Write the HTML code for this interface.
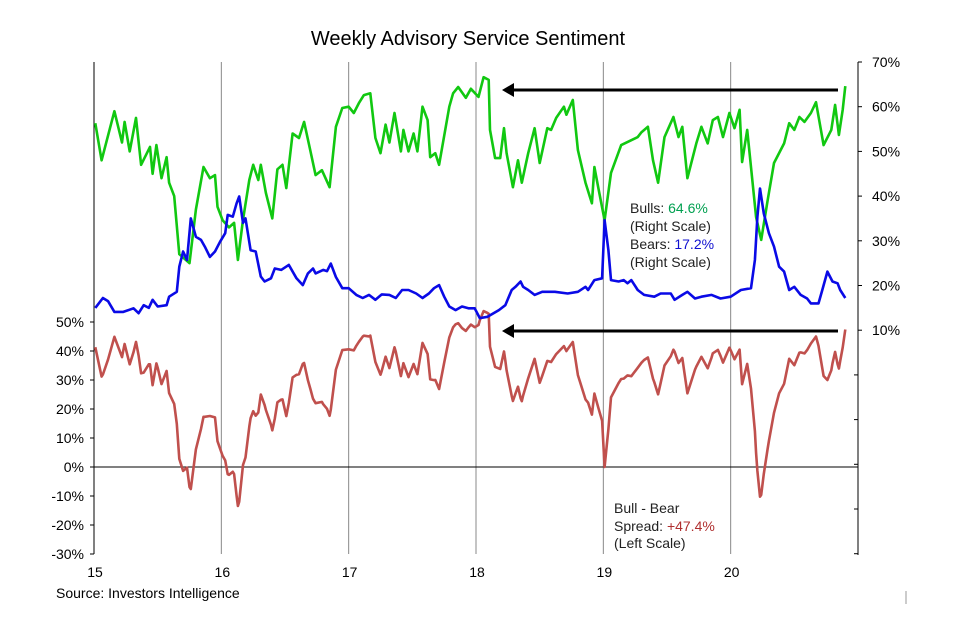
<!DOCTYPE html>
<html><head><meta charset="utf-8"><style>
html,body{margin:0;padding:0;background:#fff;}
svg{display:block;font-family:"Liberation Sans",Arial,sans-serif;}
</style></head><body>
<svg id="chart" width="958" height="619" viewBox="0 0 958 619" xmlns="http://www.w3.org/2000/svg">
<text x="468" y="45" font-size="20" text-anchor="middle" fill="#000">Weekly Advisory Service Sentiment</text>
<g id="grid"></g>
<g id="axes"></g>
<g id="series"></g>
<g>
<line x1="838" y1="90" x2="512" y2="90" stroke="#000" stroke-width="3"/>
<polygon points="502,90 514,83 514,97" fill="#000"/>
<line x1="838" y1="331" x2="512" y2="331" stroke="#000" stroke-width="3"/>
<polygon points="502,331 514,324 514,338" fill="#000"/>
<text x="630" y="213" font-size="14" fill="#222">Bulls: <tspan fill="#00a050">64.6%</tspan></text>
<text x="630" y="231" font-size="14" fill="#222">(Right Scale)</text>
<text x="630" y="249" font-size="14" fill="#222">Bears: <tspan fill="#1010d0">17.2%</tspan></text>
<text x="630" y="267" font-size="14" fill="#222">(Right Scale)</text>
<text x="614" y="513" font-size="14" fill="#222">Bull - Bear</text>
<text x="614" y="531" font-size="14" fill="#222">Spread: <tspan fill="#b03030">+47.4%</tspan></text>
<text x="614" y="548" font-size="14" fill="#222">(Left Scale)</text>
</g>
<text x="56" y="598" font-size="14" fill="#000">Source: Investors Intelligence</text>
<line x1="906" y1="591" x2="906" y2="604" stroke="#999" stroke-width="1"/>
</svg>
<script>
const bullsT=[15.01,15.06,15.16,15.22,15.24,15.28,15.33,15.37,15.44,15.46,15.49,15.53,15.57,15.59,15.63,15.67,15.75,15.80,15.86,15.91,15.95,15.97,16.01,16.06,16.10,16.13,16.17,16.22,16.25,16.29,16.31,16.35,16.40,16.44,16.48,16.51,16.56,16.61,16.65,16.70,16.74,16.79,16.85,16.90,16.95,17.00,17.04,17.08,17.12,17.17,17.21,17.25,17.29,17.32,17.36,17.41,17.43,17.47,17.51,17.54,17.58,17.62,17.64,17.68,17.71,17.79,17.82,17.86,17.92,17.96,18.02,18.06,18.10,18.11,18.15,18.19,18.22,18.24,18.29,18.33,18.36,18.41,18.46,18.50,18.56,18.59,18.63,18.69,18.71,18.76,18.80,18.86,18.91,18.93,18.96,19.01,19.06,19.14,19.22,19.27,19.30,19.35,19.39,19.43,19.48,19.55,19.59,19.62,19.66,19.73,19.77,19.82,19.86,19.90,19.94,19.99,20.03,20.07,20.09,20.13,20.20,20.24,20.29,20.34,20.42,20.46,20.50,20.54,20.58,20.63,20.67,20.73,20.79,20.82,20.85,20.88,20.90];
const bullsV=[56.3,48,59,52,56.6,50,57.5,47,51,45,51.4,44,48.7,43,40,27,25,37,46.5,44,44.7,37.6,34.6,33,34,25.7,34.7,43.6,47,43.6,47,40.7,35,46,47,41.8,54,53,56.6,50,44.7,45.8,42,55.5,59.7,60,58.6,60.8,62.6,63,53,49.6,56,52,58.6,50,54.8,50,54,50,60,57,48.7,49.6,47,60,63,64.4,62,64,62.2,66.6,66,54.8,48.5,48.5,55.2,49.6,42,48,43,49.6,55.2,47.4,55.2,54.8,57.5,60,58.2,61.5,50.3,43,38.4,46.5,42,34.6,45.2,51.4,52.5,53.2,54.3,55.5,48,43,53.2,57.7,53.2,55.5,44,51.8,55.5,51.8,57,57.7,53.2,58.6,55.2,59.3,47.6,54.8,35.3,30.2,39,47.4,51.8,56.3,54.8,57.7,56.6,58.6,61,51.4,54.8,60.4,53.7,59.3,64.6];
const bearsT=[15.01,15.07,15.11,15.16,15.23,15.31,15.35,15.39,15.43,15.46,15.50,15.57,15.59,15.65,15.67,15.70,15.73,15.76,15.80,15.84,15.87,15.91,15.95,15.99,16.03,16.05,16.09,16.12,16.14,16.17,16.19,16.23,16.27,16.31,16.34,16.39,16.42,16.47,16.53,16.59,16.64,16.68,16.72,16.74,16.80,16.83,16.86,16.90,16.95,17.00,17.06,17.11,17.16,17.21,17.26,17.32,17.37,17.42,17.47,17.53,17.58,17.63,17.67,17.71,17.75,17.79,17.84,17.89,17.94,17.99,18.03,18.09,18.18,18.23,18.28,18.31,18.35,18.37,18.41,18.46,18.52,18.62,18.72,18.80,18.86,18.88,18.93,18.99,19.01,19.04,19.06,19.12,19.16,19.19,19.22,19.27,19.32,19.40,19.45,19.53,19.56,19.62,19.66,19.72,19.77,19.85,19.92,20.00,20.08,20.16,20.19,20.21,20.23,20.26,20.30,20.34,20.38,20.42,20.46,20.50,20.55,20.60,20.63,20.69,20.72,20.76,20.80,20.84,20.86,20.90];
const bearsV=[15,17.2,16.5,14.1,14.1,14.9,13.8,15.6,15,16.8,15.3,15.6,17.5,18.6,24.2,27.6,25.7,35,30.9,30.2,28.7,26.4,27.6,29.8,31.7,35.8,35.4,38.4,39.9,34,35,27.9,27.6,22,20.9,21.6,23.8,23.5,24.6,21.6,20.1,22.7,23.8,22.7,23.5,23.2,24.9,21.9,19.4,19.4,17.9,17.2,17.9,16.8,18,17.9,17.2,19,19,18.2,17.2,18.2,19.4,20.1,17.5,15.3,14.5,15.3,14.9,14.9,12.7,13.0,14.5,15.6,19.0,19.7,20.9,19.7,19.0,17.9,18.6,18.6,18.2,18.6,19.7,19.0,21.2,21.6,34.6,27.9,21.2,20.9,21.2,20.5,21.2,19.0,17.9,17.5,18.2,18.2,16.8,17.9,18.6,17.1,17.5,17.9,17.1,17.5,19.0,19.4,25.7,35.4,41.7,36.1,31.7,28.7,24.2,23.1,19.0,19.7,17.9,17.1,16.0,16.0,19.0,23.1,20.9,20.5,19.0,17.2];
const rightTicks=[70,60,50,40,30,20,10];
const leftTicks=[50,40,30,20,10,0,-10,-20,-30];
const yearLabels=[15,16,17,18,19,20];

const NS="http://www.w3.org/2000/svg";
const X0=94,X1=858,T0=15,T1=21;
const xS=t=>X0+(t-T0)/(T1-T0)*(X1-X0);
const yR=v=>62+(70-v)*4.47;
const yL=v=>467-v*2.9;
function mk(tag,attrs,parent){const e=document.createElementNS(NS,tag);for(const k in attrs)e.setAttribute(k,attrs[k]);parent.appendChild(e);return e;}
const grid=document.getElementById('grid'),axes=document.getElementById('axes'),ser=document.getElementById('series');

yearLabels.forEach(y=>{
  const x=xS(y);
  if(y>T0){const l=mk('line',{x1:x,y1:62,x2:x,y2:554,stroke:'#888','stroke-width':1},grid);
  
  }
  const t=mk('text',{x:x+1,y:577,'font-size':14,'text-anchor':'middle',fill:'#000'},axes);t.textContent=y;
  
  
});
let a=mk('line',{x1:X0,y1:62,x2:X0,y2:554,stroke:'#000','stroke-width':1},axes);


a=mk('line',{x1:X1,y1:62,x2:X1,y2:555,stroke:'#000','stroke-width':1},axes);


a=mk('line',{x1:X0,y1:yL(0),x2:X1,y2:yL(0),stroke:'#000','stroke-width':1},axes);


leftTicks.forEach(v=>{
  const y=yL(v);
  mk('line',{x1:X0-4,y1:y,x2:X0,y2:y,stroke:'#000'},axes);
  const t=mk('text',{x:84,y:y+5,'font-size':14,'text-anchor':'end',fill:'#000'},axes);t.textContent=v+'%';
  
  
});
rightTicks.forEach(v=>{
  const y=yR(v);
  mk('line',{x1:X1,y1:y,x2:X1+4,y2:y,stroke:'#000'},axes);
  const t=mk('text',{x:872,y:y+5,'font-size':14,fill:'#000'},axes);t.textContent=v+'%';
  
  
});
for(let v=0;v>=-40;v-=10){const y=yR(v);mk('line',{x1:X1-4,y1:y,x2:X1,y2:y,stroke:'#000'},axes);}

function interp(T,V,t){if(t<=T[0])return V[0];for(let i=1;i<T.length;i++){if(t<=T[i]){const f=(t-T[i-1])/(T[i]-T[i-1]);return V[i-1]+f*(V[i]-V[i-1]);}}return V[V.length-1];}
const spreadT=[...new Set(bullsT.concat(bearsT))].sort((p,q)=>p-q);
const spreadV=spreadT.map(t=>interp(bullsT,bullsV,t)-interp(bearsT,bearsV,t));

function line(T,V,ys,color,name){
  const d=T.map((t,i)=>(i?'L':'M')+xS(t).toFixed(1)+','+ys(V[i]).toFixed(1)).join('');
  const p=mk('path',{d:d,fill:'none',stroke:color,'stroke-width':2.6,'stroke-linejoin':'round'},ser);
  
  
}
line(spreadT,spreadV,yL,'#c0504d','spread-line');
line(bullsT,bullsV,yR,'#11c811','bulls-line');
line(bearsT,bearsV,yR,'#0a0ae6','bears-line');
</script>
</body></html>
